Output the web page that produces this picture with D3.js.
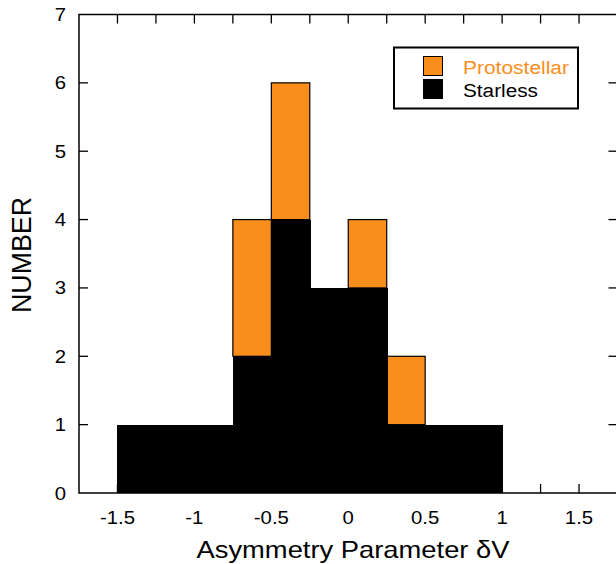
<!DOCTYPE html>
<html>
<head>
<meta charset="utf-8">
<script src="https://d3js.org/d3.v7.min.js"></script>
<style>
  body { margin: 0; background: #fff; }
  text { font-family: "Liberation Sans", Arial, sans-serif; }
</style>
</head>
<body>
<div id="chart"></div>
<script>
// bin edges (left) of width 0.25
var binStart = [-1.5, -1.25, -1.0, -0.75, -0.5, -0.25, 0.0, 0.25, 0.5, 0.75];
var starless = [1, 1, 1, 2, 4, 3, 3, 1, 1, 1];
var protostellar = [0, 0, 0, 2, 2, 0, 1, 1, 0, 0];
var binWidth = 0.25;
var xTickLabels = [-1.5, -1, -0.5, 0, 0.5, 1, 1.5];
var yTicks = [0, 1, 2, 3, 4, 5, 6, 7];

var orange = "#f98e1d";
var width = 616, height = 564;
var pLeft = 79, pTop = 14.5, pRight = 617.5, pBottom = 493;

var svg = d3.select("#chart").append("svg")
  .attr("width", width).attr("height", height);

var x = d3.scaleLinear().domain([-1.75, 1.75]).range([pLeft, pRight]);
var y = d3.scaleLinear().domain([0, 7]).range([pBottom, pTop]);

// stretch text a bit wider, the reference font runs wide
function widen(sel, k) {
  sel.each(function() {
    var w = this.getComputedTextLength();
    d3.select(this).attr("textLength", w * k).attr("lengthAdjust", "spacingAndGlyphs");
  });
}

// protostellar stacked on starless, drawn first with outline
svg.append("g").selectAll("rect")
  .data(binStart.filter(function(d, i) { return protostellar[i] > 0; }))
  .enter().append("rect")
  .attr("x", function(d) { return x(d); })
  .attr("width", function(d) { return x(d + binWidth) - x(d); })
  .attr("y", function(d) { var i = binStart.indexOf(d); return y(starless[i] + protostellar[i]); })
  .attr("height", function(d) { var i = binStart.indexOf(d); return y(starless[i]) - y(starless[i] + protostellar[i]); })
  .attr("fill", orange).attr("stroke", "#000").attr("stroke-width", 1.2);

svg.append("g").attr("shape-rendering", "crispEdges").selectAll("rect")
  .data(binStart)
  .enter().append("rect")
  .attr("x", function(d) { return x(d); })
  .attr("width", function(d) { return x(d + binWidth) - x(d) + 1; })
  .attr("y", function(d, i) { return y(starless[i]); })
  .attr("height", function(d, i) { return y(0) - y(starless[i]); })
  .attr("fill", "#000");

// frame
svg.append("rect")
  .attr("x", pLeft).attr("y", pTop)
  .attr("width", pRight - pLeft).attr("height", pBottom - pTop)
  .attr("fill", "none").attr("stroke", "#000").attr("stroke-width", 1.5);

var xt = d3.range(-1.5, 1.751, 0.25);
var tl = 9;
var ticks = svg.append("g").attr("stroke", "#000").attr("stroke-width", 1.3);
xt.forEach(function(v) {
  ticks.append("line").attr("x1", x(v)).attr("x2", x(v)).attr("y1", pBottom).attr("y2", pBottom - tl);
  ticks.append("line").attr("x1", x(v)).attr("x2", x(v)).attr("y1", pTop).attr("y2", pTop + tl);
});
yTicks.slice(1, -1).forEach(function(v) {
  ticks.append("line").attr("x1", pLeft).attr("x2", pLeft + tl).attr("y1", y(v)).attr("y2", y(v));
  ticks.append("line").attr("x1", pRight).attr("x2", pRight - tl).attr("y1", y(v)).attr("y2", y(v));
});

svg.append("g").selectAll("text")
  .data(xTickLabels).enter().append("text")
  .attr("x", function(d) { return x(d); })
  .attr("y", 524)
  .attr("text-anchor", "middle")
  .attr("font-size", 18.5)
  .text(function(d) { return d; })
  .call(widen, 1.1);

svg.append("g").selectAll("text")
  .data(yTicks).enter().append("text")
  .attr("x", 66)
  .attr("y", function(d) { return y(d) + 6.5; })
  .attr("text-anchor", "end")
  .attr("font-size", 18.5)
  .text(function(d) { return d; })
  .call(widen, 1.1);

svg.append("text")
  .attr("x", 353).attr("y", 558)
  .attr("text-anchor", "middle").attr("font-size", 24)
  .attr("textLength", 313).attr("lengthAdjust", "spacingAndGlyphs")
  .text("Asymmetry Parameter \u03b4V");

svg.append("text")
  .attr("transform", "translate(31," + 255 + ") rotate(-90)")
  .attr("text-anchor", "middle").attr("font-size", 27)
  .attr("textLength", 116).attr("lengthAdjust", "spacingAndGlyphs")
  .text("NUMBER");

// legend
var lg = svg.append("g");
lg.append("rect").attr("x", 394).attr("y", 47.5).attr("width", 184).attr("height", 61)
  .attr("fill", "#fff").attr("stroke", "#000").attr("stroke-width", 2);
lg.append("rect").attr("x", 423.5).attr("y", 56.5).attr("width", 19).attr("height", 19)
  .attr("fill", orange).attr("stroke", "#000").attr("stroke-width", 1);
lg.append("rect").attr("x", 423).attr("y", 79).attr("width", 20).attr("height", 20)
  .attr("fill", "#000");
lg.append("text").attr("x", 463).attr("y", 74).attr("font-size", 18).attr("fill", orange)
  .attr("textLength", 106).attr("lengthAdjust", "spacingAndGlyphs").text("Protostellar");
lg.append("text").attr("x", 463).attr("y", 97).attr("font-size", 18).attr("fill", "#000")
  .attr("textLength", 75).attr("lengthAdjust", "spacingAndGlyphs").text("Starless");
</script>
</body>
</html>
